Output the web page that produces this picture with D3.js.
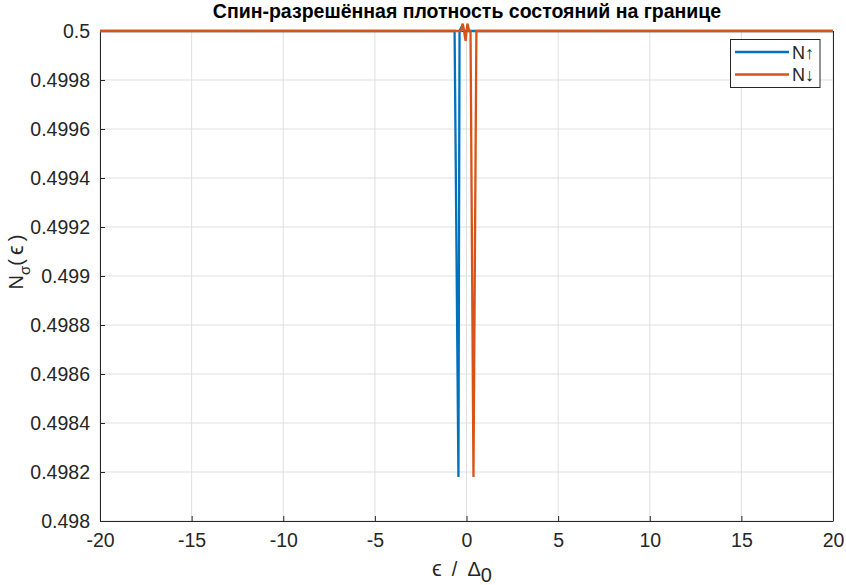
<!DOCTYPE html>
<html><head><meta charset="utf-8">
<script src="https://cdn.jsdelivr.net/npm/d3@7"></script>
<style>body{margin:0;background:#fff}svg{display:block;font-family:"Liberation Sans",Arial,sans-serif}</style>
</head><body>
<svg id="c" width="846" height="585"></svg>
<script>
// Data
const xTicks = [-20,-15,-10,-5,0,5,10,15,20];
const yTicks = [0.498,0.4982,0.4984,0.4986,0.4988,0.499,0.4992,0.4994,0.4996,0.4998,0.5];
const yTickLabels = ["0.498","0.4982","0.4984","0.4986","0.4988","0.499","0.4992","0.4994","0.4996","0.4998","0.5"];
const upX = [-20,-0.65,-0.44,-0.38,-0.25,-0.12,20];
const upY = [0.5,0.5,0.49818,0.5,0.50002,0.5,0.5];
const downX = [-20,-0.3,-0.2,-0.05,0.05,0.15,0.22,0.38,0.54,20];
const downY = [0.5,0.5,0.50003,0.49996,0.50003,0.5,0.5,0.49818,0.5,0.5];
const seriesNames = ["N\u2191","N\u2193"];
const colors = ["#0072BD","#D95319"];

const svg = d3.select("#c");
const L=100,R=833,T=31,B=521;
const x = d3.scaleLinear().domain([-20,20]).range([L,R]);
const y = d3.scaleLinear().domain([0.498,0.5]).range([B,T]);
const ink="#262626";

// grid
svg.append("g").selectAll("line").data(xTicks).join("line")
  .attr("x1",d=>x(d)).attr("x2",d=>x(d)).attr("y1",T).attr("y2",B)
  .attr("stroke","#dfdfdf").attr("stroke-width",1);
svg.append("g").selectAll("line").data(yTicks).join("line")
  .attr("y1",d=>y(d)).attr("y2",d=>y(d)).attr("x1",L).attr("x2",R)
  .attr("stroke","#dfdfdf").attr("stroke-width",1);

// axes
const xAxis = d3.axisBottom(x).tickValues(xTicks).tickSizeInner(-5).tickSizeOuter(0).tickPadding(12).tickFormat(d=>String(d));
const gx = svg.append("g").attr("transform",`translate(0,${B})`).call(xAxis);
const yAxis = d3.axisLeft(y).tickValues(yTicks).tickSizeInner(-5).tickSizeOuter(0).tickPadding(10).tickFormat((d,i)=>yTickLabels[i]);
const gy = svg.append("g").attr("transform",`translate(${L},0)`).call(yAxis);
[gx,gy].forEach(g=>{
  g.select(".domain").attr("stroke",ink);
  g.selectAll(".tick line").attr("stroke",ink);
  g.selectAll(".tick text").attr("fill",ink).style("font-size","19.5px").style("font-family","'Liberation Sans',Arial,sans-serif");
});
// box top/right
svg.append("line").attr("x1",L).attr("x2",R).attr("y1",T+0.5).attr("y2",T+0.5).attr("stroke",ink);
svg.append("line").attr("x1",R+0.5).attr("x2",R+0.5).attr("y1",T).attr("y2",B).attr("stroke",ink);

// lines
const line = d3.line().x(d=>x(d[0])).y(d=>y(d[1]));
const up = upX.map((v,i)=>[v,upY[i]]);
const down = downX.map((v,i)=>[v,downY[i]]);
[up,down].forEach((s,i)=>{
  svg.append("path").datum(s).attr("d",line).attr("fill","none")
    .attr("stroke",colors[i]).attr("stroke-width",2.3).attr("stroke-linejoin","miter");
});

// legend
const lg = svg.append("g");
lg.append("rect").attr("x",730.5).attr("y",39.5).attr("width",89.5).attr("height",48).attr("fill","#fff").attr("stroke",ink);
seriesNames.forEach((n,i)=>{
  const yy = 52 + i*22.5;
  lg.append("line").attr("x1",735).attr("x2",789).attr("y1",yy).attr("y2",yy).attr("stroke",colors[i]).attr("stroke-width",2.3);
  lg.append("text").attr("x",792).attr("y",yy+6.5).attr("fill",ink).style("font-size","18px").text(n);
});

// title
svg.append("text").attr("x",467).attr("y",18).attr("text-anchor","middle").attr("fill","#000")
  .style("font-size","19.5px").style("font-weight","bold").text("Спин-разрешённая плотность состояний на границе");

// x label
const xl = svg.append("text").attr("x",462).attr("y",576).attr("text-anchor","middle").attr("fill",ink).style("font-size","20px");
xl.append("tspan").style("font-size","22px").text("\u03F5");
xl.append("tspan").text("\u2002/\u2002\u0394");
xl.append("tspan").attr("dy",6).text("0");

// y label
const yl = svg.append("text").attr("transform","translate(23,262) rotate(-90)").attr("text-anchor","middle").attr("fill",ink).style("font-size","20px");
yl.append("tspan").text("N");
yl.append("tspan").attr("dy",7).style("font-size","15px").text("\u03C3");
yl.append("tspan").attr("dy",-7).text("(\u2009");
yl.append("tspan").style("font-size","22px").text("\u03F5");
yl.append("tspan").text("\u2009)");
</script>
</body></html>
